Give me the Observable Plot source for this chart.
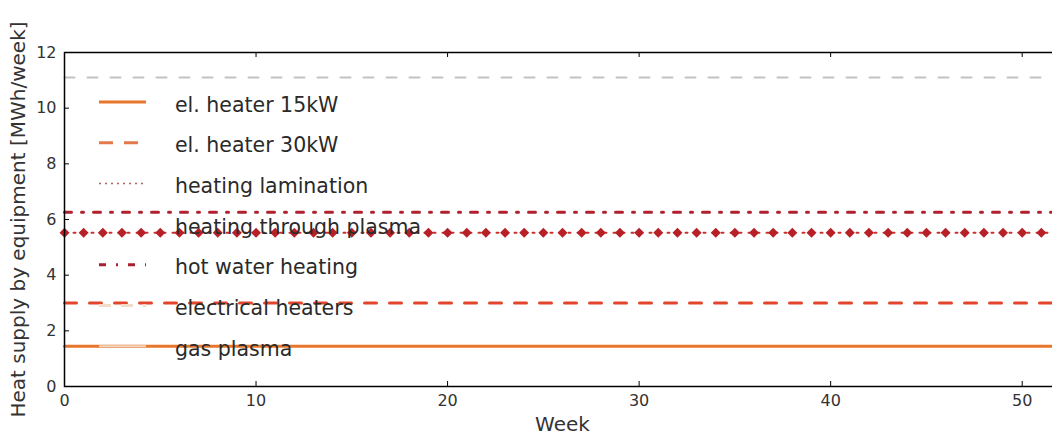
<!DOCTYPE html>
<html>
<head>
<meta charset="utf-8">
<script src="https://cdn.jsdelivr.net/npm/d3@7"></script>
<script src="https://cdn.jsdelivr.net/npm/@observablehq/plot@0.6"></script>
<style>
  html, body { margin: 0; padding: 0; background: white; overflow: hidden; }
  #chart { width: 1052px; height: 440px; }
</style>
</head>
<body>
<div id="chart"></div>
<script>
const weeks = [0,1,2,3,4,5,6,7,8,9,10,11,12,13,14,15,16,17,18,19,20,21,22,23,24,25,26,27,28,29,30,31,32,33,34,35,36,37,38,39,40,41,42,43,44,45,46,47,48,49,50,51,52];
const elHeater15 = [1.45,1.45,1.45,1.45,1.45,1.45,1.45,1.45,1.45,1.45,1.45,1.45,1.45,1.45,1.45,1.45,1.45,1.45,1.45,1.45,1.45,1.45,1.45,1.45,1.45,1.45,1.45,1.45,1.45,1.45,1.45,1.45,1.45,1.45,1.45,1.45,1.45,1.45,1.45,1.45,1.45,1.45,1.45,1.45,1.45,1.45,1.45,1.45,1.45,1.45,1.45,1.45,1.45];
const elHeater30 = [3.0,3.0,3.0,3.0,3.0,3.0,3.0,3.0,3.0,3.0,3.0,3.0,3.0,3.0,3.0,3.0,3.0,3.0,3.0,3.0,3.0,3.0,3.0,3.0,3.0,3.0,3.0,3.0,3.0,3.0,3.0,3.0,3.0,3.0,3.0,3.0,3.0,3.0,3.0,3.0,3.0,3.0,3.0,3.0,3.0,3.0,3.0,3.0,3.0,3.0,3.0,3.0,3.0];
const heatingPlasma = [5.52,5.52,5.52,5.52,5.52,5.52,5.52,5.52,5.52,5.52,5.52,5.52,5.52,5.52,5.52,5.52,5.52,5.52,5.52,5.52,5.52,5.52,5.52,5.52,5.52,5.52,5.52,5.52,5.52,5.52,5.52,5.52,5.52,5.52,5.52,5.52,5.52,5.52,5.52,5.52,5.52,5.52,5.52,5.52,5.52,5.52,5.52,5.52,5.52,5.52,5.52,5.52,5.52];
const hotWater = [6.26,6.26,6.26,6.26,6.26,6.26,6.26,6.26,6.26,6.26,6.26,6.26,6.26,6.26,6.26,6.26,6.26,6.26,6.26,6.26,6.26,6.26,6.26,6.26,6.26,6.26,6.26,6.26,6.26,6.26,6.26,6.26,6.26,6.26,6.26,6.26,6.26,6.26,6.26,6.26,6.26,6.26,6.26,6.26,6.26,6.26,6.26,6.26,6.26,6.26,6.26,6.26,6.26];
const electricalHeaters = [11.1,11.1,11.1,11.1,11.1,11.1,11.1,11.1,11.1,11.1,11.1,11.1,11.1,11.1,11.1,11.1,11.1,11.1,11.1,11.1,11.1,11.1,11.1,11.1,11.1,11.1,11.1,11.1,11.1,11.1,11.1,11.1,11.1,11.1,11.1,11.1,11.1,11.1,11.1,11.1,11.1,11.1,11.1,11.1,11.1,11.1,11.1,11.1,11.1,11.1,11.1,11.1,11.1];
const legendLabels = ["el. heater 15kW","el. heater 30kW","heating lamination","heating through plasma","hot water heating","electrical heaters","gas plasma"];
const xTicks = [0,10,20,30,40,50];
const yTicks = [0,2,4,6,8,10,12];
const xLabel = "Week";
const yLabel = "Heat supply by equipment [MWh/week]";

const rows = (vals) => weeks.map((w, i) => ({week: w, value: vals[i]}));

const mL = 64, mR = -8, mT = 52, mB = 54, W = 1052, H = 440;
const plotW = W - mL - mR, plotH = H - mT - mB;

const chart = Plot.plot({
  width: W, height: H,
  marginLeft: mL, marginRight: mR, marginTop: mT, marginBottom: mB,
  x: {domain: [0, 52]},
  y: {domain: [0, 12]},
  style: {fontFamily: "DejaVu Sans", fontSize: "16px", color: "#333", background: "white", overflow: "hidden"},
  marks: [
    Plot.line(rows(electricalHeaters), {x: "week", y: "value", stroke: "#c2c2c2", strokeWidth: 2, strokeDasharray: "10,13"}),
    Plot.line(rows(hotWater), {x: "week", y: "value", stroke: "#b0202e", strokeWidth: 3, strokeDasharray: "7,10,2,10"}),
    Plot.line(rows(heatingPlasma), {x: "week", y: "value", stroke: "#c8302c", strokeWidth: 2, strokeDasharray: "2,7"}),
    Plot.dot(rows(heatingPlasma), {x: "week", y: "value", symbol: "diamond2", r: 4.5, fill: "#b82028", stroke: "none"}),
    Plot.line(rows(elHeater30), {x: "week", y: "value", stroke: "#e2452b", strokeWidth: 3, strokeDasharray: "12,13"}),
    Plot.line(rows(elHeater15), {x: "week", y: "value", stroke: "#e8762c", strokeWidth: 3}),
    Plot.frame({stroke: "#000", strokeWidth: 1.5}),
    Plot.tickX(xTicks, {x: d => d, insetTop: plotH - 5, stroke: "#000"}),
    Plot.tickX(xTicks, {x: d => d, insetBottom: plotH - 5, stroke: "#000"}),
    Plot.tickY(yTicks, {y: d => d, insetRight: plotW - 5, stroke: "#000"}),
    Plot.axisX({ticks: xTicks, tickSize: 0, tickPadding: 8, label: null, fontSize: 16}),
    Plot.axisY({ticks: yTicks, tickSize: 0, tickPadding: 8, label: null, fontSize: 16}),
    Plot.text([xLabel], {frameAnchor: "bottom", dy: 38, fontSize: 20, fill: "#333", lineAnchor: "middle", textAnchor: "middle"}),
    Plot.text([yLabel], {frameAnchor: "left", dx: -46, rotate: -90, fontSize: 20, fill: "#333", lineAnchor: "middle", textAnchor: "middle"})
  ]
});

// legend (no frame), drawn on top like matplotlib's legend
const svg = d3.select(chart);
const lg = svg.append("g").attr("font-family", "DejaVu Sans").attr("font-size", 20.5).attr("fill", "#2a2a2a").attr("text-anchor", "start");
const handles = [
  {stroke: "#e8762c", dash: null, w: 3},
  {stroke: "#e27a4c", dash: "14,11", w: 3},
  {stroke: "#b06060", dash: "2,4", w: 1.5},
  null,
  {stroke: "#a82030", dash: "7,10,2,10", w: 3},
  {stroke: "#f0dcc8", dash: "12,10", w: 3},
  {stroke: "#f2d8c0", dash: null, w: 2}
];
legendLabels.forEach((lab, i) => {
  const base = 111.5 + i * 40.7;
  const h = handles[i];
  if (h) {
    const ln = lg.append("line").attr("x1", 99).attr("x2", 146).attr("y1", base - 9.5).attr("y2", base - 9.5)
      .attr("stroke", h.stroke).attr("stroke-width", h.w);
    if (h.dash) ln.attr("stroke-dasharray", h.dash);
  }
  lg.append("text").attr("x", 175).attr("y", base).attr("text-anchor", "start").text(lab);
});

document.getElementById("chart").appendChild(chart);
</script>
</body>
</html>
